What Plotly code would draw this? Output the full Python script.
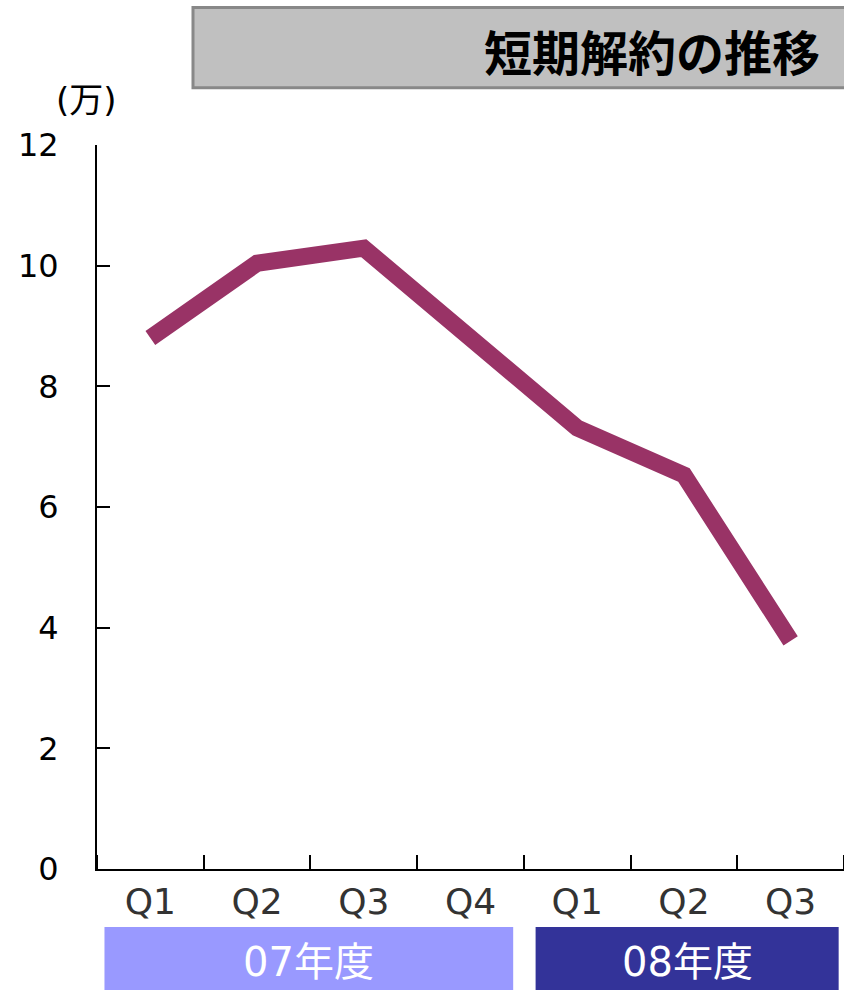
import plotly.graph_objects as go

# 短期解約の推移 (単位: 万)
quarters = ["Q1", "Q2", "Q3", "Q4", "Q1", "Q2", "Q3"]
cancellations = [8.8, 10.04, 10.29, 8.8, 7.31, 6.53, 3.78]
fiscal_years = ["07年度", "08年度"]
fy_spans = [(-0.43, 3.40), (3.61, 6.45)]
fy_colors = ["#9999ff", "#333399"]
y_ticks = [0, 2, 4, 6, 8, 10, 12]

FONT = "DejaVu Sans, Noto Sans CJK JP"
JP = "Noto Sans CJK JP"

x_pos = list(range(len(quarters)))

fig = go.Figure()
fig.add_trace(go.Scatter(
    x=x_pos, y=cancellations,
    mode="lines",
    line=dict(color="#993366", width=17),
    showlegend=False,
))

fig.update_xaxes(
    range=[-0.5, len(quarters) - 0.5],
    tickvals=x_pos, ticktext=quarters,
    ticks="", showgrid=False, zeroline=False,
    showline=True, linecolor="black", linewidth=2,
    tickfont=dict(size=36, color="#333333", family=FONT),
    minor=dict(tick0=0.5, dtick=1, ticks="inside", ticklen=14,
               tickcolor="black", tickwidth=2, showgrid=False),
)
fig.update_yaxes(
    range=[0, 12], tickvals=y_ticks,
    ticks="inside", ticklen=13, tickcolor="black", tickwidth=2,
    showgrid=False, zeroline=False,
    showline=True, linecolor="black", linewidth=2,
    tickfont=dict(size=32, color="black", family=FONT),
    ticklabelstandoff=30,
)

shapes = [dict(type="rect", xref="paper", yref="paper",
               x0=0.1285, x1=1.02, y0=1.079, y1=1.19,
               fillcolor="#c0c0c0", line=dict(color="#888888", width=3),
               layer="above")]
annotations = [
    dict(text="<b>短期解約の推移</b>", xref="paper", yref="paper",
         x=0.9705, y=1.131, xanchor="right", yanchor="middle",
         showarrow=False, font=dict(size=48, color="black", family=JP)),
    dict(text="(万)", xref="paper", yref="paper",
         x=-0.0134, y=1.062, xanchor="center", yanchor="middle",
         showarrow=False, font=dict(size=34, color="black", family=FONT)),
]
for name, (a, b), c in zip(fiscal_years, fy_spans, fy_colors):
    shapes.append(dict(type="rect", xref="x", yref="paper",
                       x0=a, x1=b, y0=-0.17, y1=-0.080,
                       fillcolor=c, line=dict(width=0)))
    annotations.append(dict(text=name, xref="x", yref="paper",
                            x=(a + b) / 2, y=-0.128,
                            xanchor="center", yanchor="middle",
                            showarrow=False,
                            font=dict(size=40, color="white", family=FONT)))

fig.update_layout(
    width=844, height=990,
    margin=dict(l=97, r=0, t=145, b=121),
    plot_bgcolor="white", paper_bgcolor="white",
    shapes=shapes, annotations=annotations,
)

# drop the default 8px body margin so the figure fills the window
fig.write_html("out.html",
               config={"displayModeBar": False},
               post_script="document.body.style.margin='0';"
                           "document.body.style.overflow='hidden';")
